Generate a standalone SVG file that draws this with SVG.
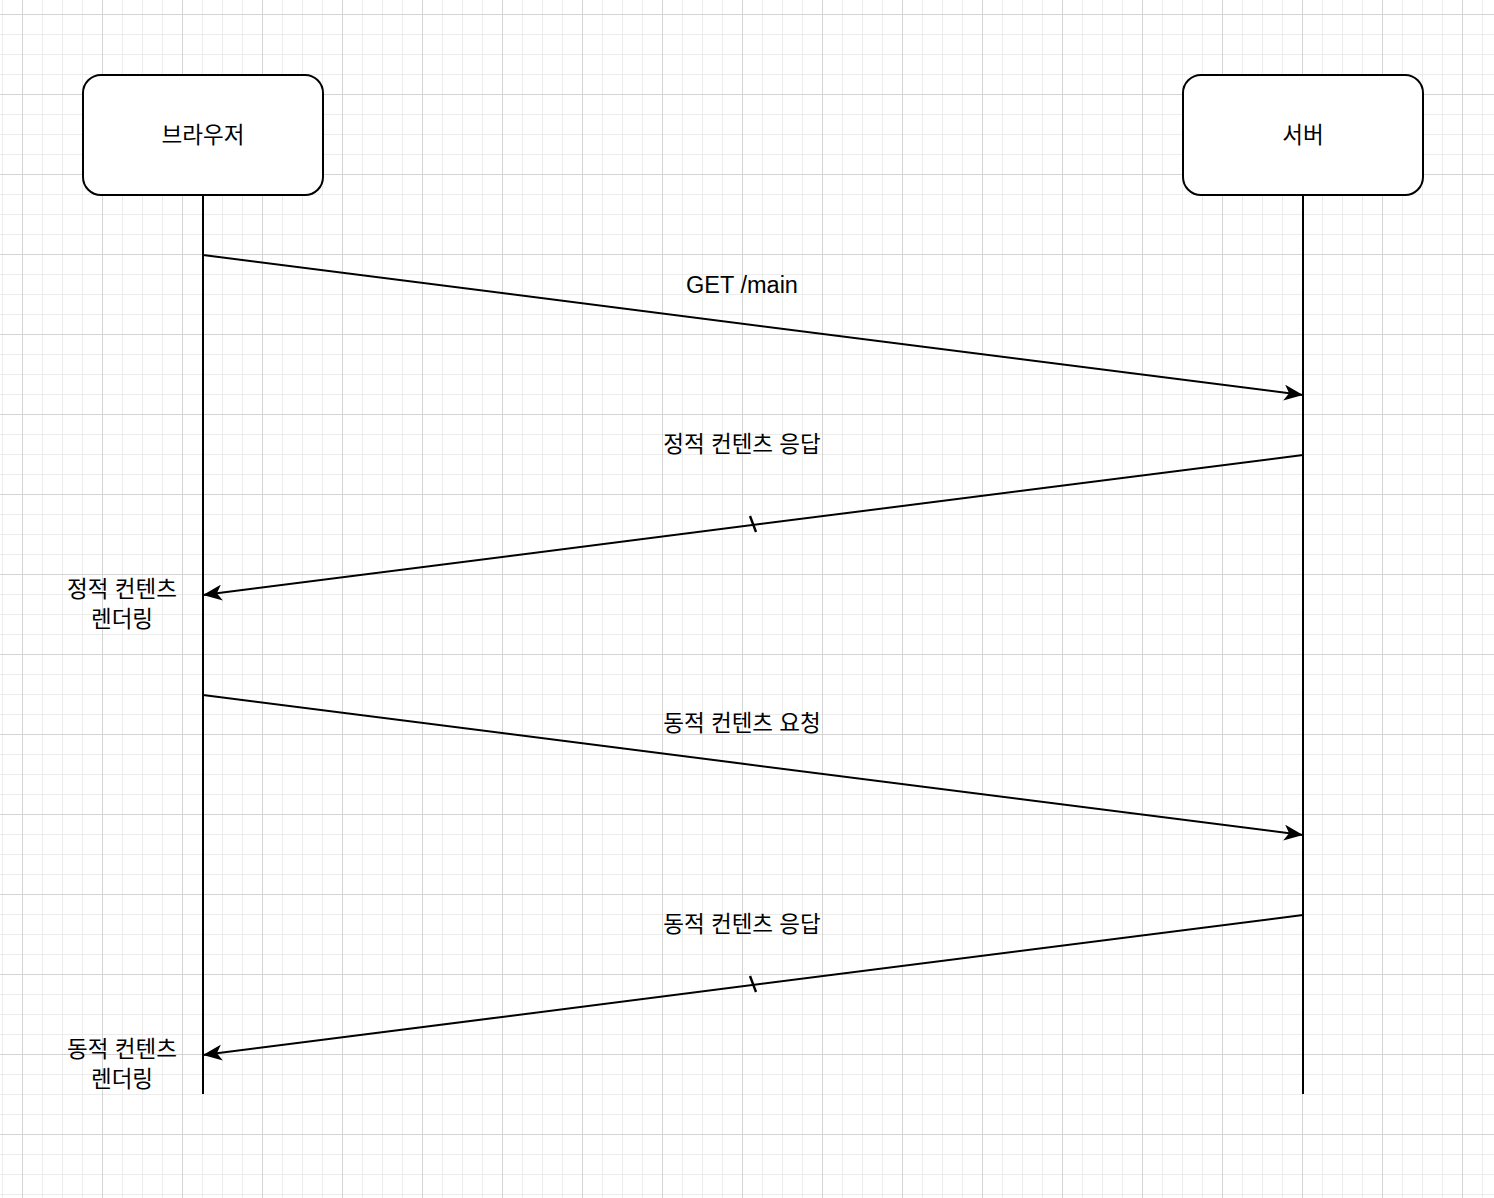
<svg xmlns="http://www.w3.org/2000/svg" width="1494" height="1198" viewBox="0 0 1494 1198">
<style>
.box{fill:#fff;stroke:#000;stroke-width:2}
.life{stroke:#000;stroke-width:2;fill:none}
.msg{stroke:#000;stroke-width:2;fill:none}
.slash{stroke:#000;stroke-width:2.4;fill:none}
.t{font-family:"Liberation Sans","Noto Sans CJK KR",sans-serif;font-size:22.5px;fill:#000;text-anchor:middle;dominant-baseline:central}
.l{font-size:23.5px}
</style>
<defs>
<pattern id="minor" x="2" y="14" width="20" height="20" patternUnits="userSpaceOnUse">
<rect x="0" y="0" width="1" height="20" fill="#ececec"/>
<rect x="0" y="0" width="20" height="1" fill="#ececec"/>
</pattern>
<pattern id="major" x="22" y="14" width="80" height="80" patternUnits="userSpaceOnUse">
<rect x="0" y="0" width="1" height="80" fill="#d4d4d4"/>
<rect x="0" y="0" width="80" height="1" fill="#d4d4d4"/>
</pattern>
<marker id="arr" viewBox="0 0 19 16" refX="19" refY="8" markerWidth="19" markerHeight="16" markerUnits="userSpaceOnUse" orient="auto">
<path d="M19,8 L0,0 L5,8 L0,16 Z" fill="#000"/>
</marker>
</defs>
<rect width="1494" height="1198" fill="#fff"/>
<rect width="1494" height="1198" fill="url(#minor)"/>
<rect width="1494" height="1198" fill="url(#major)"/>
<g id="connectors">
<line class="life" x1="203" y1="195" x2="203" y2="1094"/>
<line class="life" x1="1303" y1="195" x2="1303" y2="1094"/>
<line class="msg" x1="203" y1="255" x2="1303" y2="395" marker-end="url(#arr)"/>
<line class="msg" x1="1303" y1="455" x2="203" y2="595" marker-end="url(#arr)"/>
<line class="slash" x1="750" y1="516" x2="756" y2="532"/>
<line class="msg" x1="203" y1="695" x2="1303" y2="835" marker-end="url(#arr)"/>
<line class="msg" x1="1303" y1="915" x2="203" y2="1055" marker-end="url(#arr)"/>
<line class="slash" x1="750" y1="976" x2="756" y2="992"/>
<text class="t l" x="742" y="285">GET /main</text>
<text class="t" x="742" y="444">정적 컨텐츠 응답</text>
<text class="t" x="742" y="723">동적 컨텐츠 요청</text>
<text class="t" x="742" y="924">동적 컨텐츠 응답</text>
</g>
<g id="browser">
<rect class="box" x="83" y="75" width="240" height="120" rx="18" ry="18"/>
<text class="t" x="203" y="135">브라우저</text>
</g>
<g id="server">
<rect class="box" x="1183" y="75" width="240" height="120" rx="18" ry="18"/>
<text class="t" x="1303" y="135">서버</text>
</g>
<g id="static-render">
<text class="t" x="122" y="589">정적 컨텐츠</text>
<text class="t" x="122" y="619">렌더링</text>
</g>
<g id="dynamic-render">
<text class="t" x="122" y="1049">동적 컨텐츠</text>
<text class="t" x="122" y="1079">렌더링</text>
</g>
</svg>
